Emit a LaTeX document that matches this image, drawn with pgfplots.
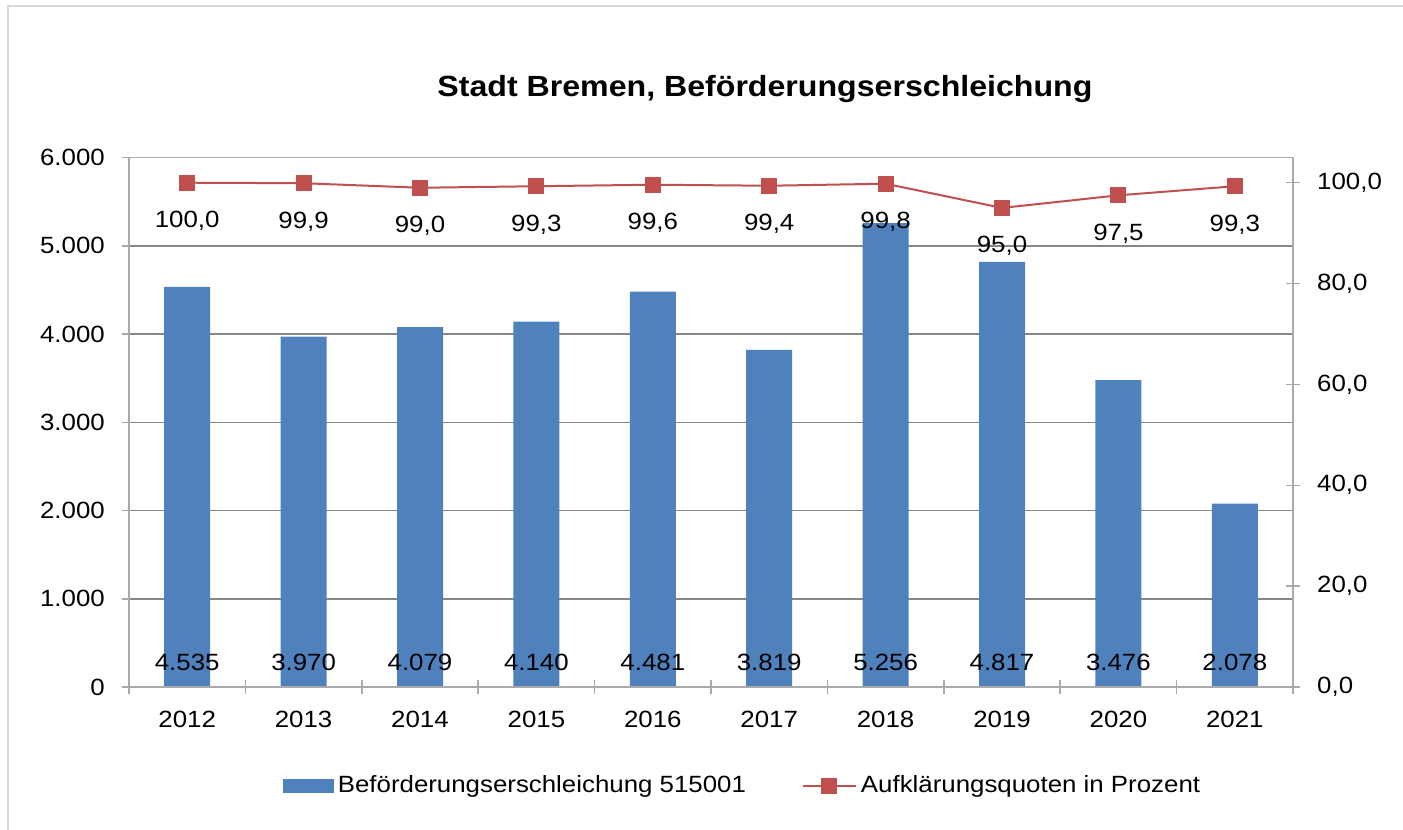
\documentclass[border=0pt]{standalone}
\usepackage{fontspec}
\setmainfont{Liberation Sans}[FakeStretch=1.1]
\usepackage{pgfplots}
\pgfplotsset{compat=1.18}
\definecolor{barblue}{RGB}{79,129,189}
\definecolor{linered}{RGB}{192,80,77}
\definecolor{axisgray}{RGB}{170,170,170}
\definecolor{gridgray}{RGB}{134,134,134}
\definecolor{framegray}{RGB}{217,217,217}
\pgfplotsset{
  lineleg/.style={legend image code/.code={\draw[mark repeat=2,mark phase=2,##1] plot coordinates {(0pt,0pt) (13.25pt,0pt) (26.5pt,0pt)};}},
  barleg/.style={legend image code/.code={\fill[barblue] (0pt,-3.4pt) rectangle (25pt,3.4pt);}},
  common/.style={scale only axis, width=582pt, height=264.75pt,
    at={(0pt,0pt)}, anchor=south west, xmin=-0.5, xmax=9.5},
}
\begin{document}
\fontsize{11.75pt}{14pt}\selectfont
\begin{tikzpicture}
\begin{axis}[
  common, ymin=0, ymax=6000,
  xtick={0,...,9},
  xticklabels={2012,2013,2014,2015,2016,2017,2018,2019,2020,2021},
  xtick style={draw=none},
  ytick={0,1000,...,6000}, ytick pos=left,
  tick align=outside, major tick length=3.5pt,
  ymajorgrids, grid style={gridgray, line width=0.75pt},
  axis line style={axisgray, line width=0.75pt},
  ytick style={axisgray, line width=0.75pt},
  /pgf/number format/assume math mode=true,
  yticklabel style={xshift=-4.5pt, /pgf/number format/fixed, /pgf/number format/1000 sep={.}, /pgf/number format/assume math mode=true},
  xticklabel style={yshift=-4.5pt},
]
\addplot[ybar, bar width=23pt, fill=barblue, draw=none] table {
x y
0 4535
1 3970
2 4079
3 4140
4 4481
5 3819
6 5256
7 4817
8 3476
9 2078
};
\addplot[draw=none, nodes near coords, point meta=explicit symbolic,
  nodes near coords style={anchor=base, yshift=8.5pt, text=black}] table[meta=lab] {
x y lab
0 0 4.535
1 0 3.970
2 0 4.079
3 0 4.140
4 0 4.481
5 0 3.819
6 0 5.256
7 0 4.817
8 0 3.476
9 0 2.078
};
\end{axis}

\begin{axis}[
  common, ymin=0, ymax=105,
  axis y line*=right, axis x line*=bottom,
  xtick={-0.5,0.5,...,9.5}, xticklabels={,,,,,,,,,,,},
  ytick={0,20,...,100},
  tick align=center, major tick length=7pt,
  axis line style={axisgray, line width=0.75pt},
  tick style={axisgray, line width=0.75pt},
  /pgf/number format/assume math mode=true,
  yticklabel style={xshift=4.5pt, /pgf/number format/fixed, /pgf/number format/fixed zerofill, /pgf/number format/precision=1, /pgf/number format/use comma, /pgf/number format/assume math mode=true},
  legend columns=2,
  legend cell align=left,
  legend style={at={(0.528,-0.187)}, anchor=center, draw=none, fill=none,
    /tikz/column 2/.style={column sep=26pt}},
]
\addlegendimage{barleg}
\addlegendentry{Beförderungserschleichung 515001}
\addplot[linered, line width=1pt, mark=square*, mark size=3.5pt,
  mark options={fill=linered, draw=linered}, lineleg,
  nodes near coords, point meta=explicit symbolic,
  nodes near coords style={anchor=base, yshift=-22.5pt, text=black}] table[meta=lab] {
x y lab
0 100.0 100,0
1 99.9 99,9
2 99.0 99,0
3 99.3 99,3
4 99.6 99,6
5 99.4 99,4
6 99.8 99,8
7 95.0 95,0
8 97.5 97,5
9 99.3 99,3
};
\addlegendentry{Aufklärungsquoten in Prozent}
\end{axis}
\draw[framegray, line width=1pt] (-60.5pt,-71.5pt) -- (-60.5pt,340.5pt) -- (637pt,340.5pt);
\node[font=\fontsize{14.6pt}{17pt}\selectfont\bfseries, anchor=base] at (318pt,295pt) {Stadt Bremen, Beförderungserschleichung};
\pgfresetboundingbox
\path[use as bounding box] (-64.5pt,-71.5pt) rectangle (637pt,343.5pt);
\end{tikzpicture}
\end{document}
